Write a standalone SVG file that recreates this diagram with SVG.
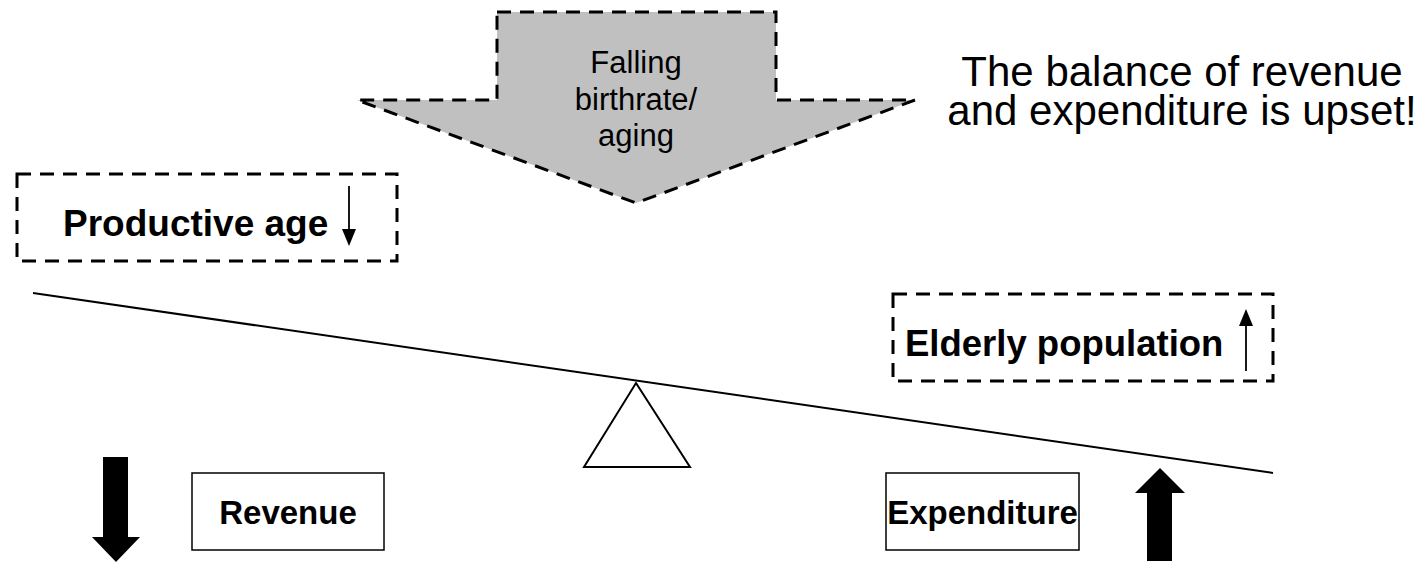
<svg xmlns="http://www.w3.org/2000/svg" width="1428" height="563" viewBox="0 0 1428 563">
<style>
.dash{fill:none;stroke:#000;stroke-width:3;stroke-dasharray:14 9}
.box{fill:#fff;stroke:#000;stroke-width:1.5}
.t{font-family:"Liberation Sans",Arial,sans-serif;fill:#000}
.b{font-weight:bold}
.thin{stroke:#000;stroke-width:2;fill:none}
.sm{stroke:#000;stroke-width:1.8}
</style>
<rect width="1428" height="563" fill="#fff"/>
<g id="cause">
<polygon points="497,12 776,12 776,100 915,100 636,203 357,100 497,100" fill="#c0c0c0" stroke="#000" stroke-width="3" stroke-dasharray="14 9"/>
<text class="t" font-size="31" text-anchor="middle"><tspan x="636" y="73">Falling</tspan><tspan x="636" y="110">birthrate/</tspan><tspan x="636" y="146">aging</tspan></text>
</g>
<g id="headline">
<text class="t" font-size="42" text-anchor="middle"><tspan x="1182" y="86">The balance of revenue</tspan><tspan x="1182" y="125">and expenditure is upset!</tspan></text>
</g>
<g id="productive">
<rect class="dash" x="17" y="174" width="380" height="87"/>
<text class="t b" font-size="37" x="63" y="236">Productive age</text>
<line class="sm" x1="349" y1="186" x2="349" y2="230"/>
<polygon points="342,229 356,229 349,246" fill="#000"/>
</g>
<g id="elderly">
<rect class="dash" x="893" y="294" width="380" height="87"/>
<text class="t b" font-size="36.5" x="905" y="356">Elderly population</text>
<line class="sm" x1="1246" y1="371" x2="1246" y2="325"/>
<polygon points="1239,326 1253,326 1246,309" fill="#000"/>
</g>
<g id="connectors">
<line class="thin" x1="33" y1="293" x2="1273" y2="473"/>
<polygon points="636,383 690,467 584,467" fill="#fff" stroke="#000" stroke-width="2"/>
</g>
<g id="revenue">
<rect class="box" x="192" y="473" width="192" height="77"/>
<text class="t b" font-size="33" x="288" y="524" text-anchor="middle">Revenue</text>
<polygon points="103,457 128,457 128,537 140,537 116,562 92,537 103,537" fill="#000"/>
</g>
<g id="expenditure">
<rect class="box" x="886" y="473" width="193" height="77"/>
<text class="t b" font-size="33" x="982.5" y="524" text-anchor="middle">Expenditure</text>
<polygon points="1160,468 1185,493 1172,493 1172,561 1147,561 1147,493 1135,493" fill="#000"/>
</g>
</svg>
